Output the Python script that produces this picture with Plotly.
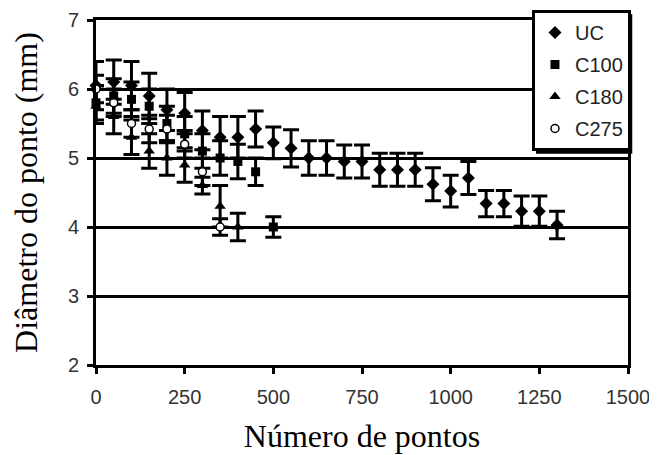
import plotly.graph_objects as go

# ---- data ----
uc_x = [0, 50, 100, 150, 200, 250, 300, 350, 400, 450, 500, 550, 600, 650,
        700, 750, 800, 850, 900, 950, 1000, 1050, 1100, 1150, 1200, 1250, 1300]
uc_y = [6.05, 6.1, 6.05, 5.9, 5.7, 5.65, 5.4, 5.3, 5.3, 5.42, 5.22, 5.14, 5.0, 5.0,
        4.95, 4.95, 4.83, 4.83, 4.83, 4.62, 4.52, 4.71, 4.34, 4.34, 4.23, 4.23, 4.03]
uc_err = [0.35, 0.32, 0.35, 0.33, 0.3, 0.3, 0.28, 0.3, 0.3, 0.26, 0.23, 0.27, 0.25, 0.25,
          0.24, 0.24, 0.24, 0.24, 0.24, 0.24, 0.23, 0.24, 0.19, 0.19, 0.22, 0.22, 0.2]

c100_x = [0, 50, 100, 150, 200, 250, 300, 350, 400, 450, 500]
c100_y = [5.8, 5.9, 5.85, 5.75, 5.5, 5.35, 5.1, 5.0, 4.95, 4.8, 4.0]
c100_err = [0.25, 0.25, 0.25, 0.25, 0.25, 0.25, 0.25, 0.25, 0.25, 0.2, 0.15]

c180_x = [0, 50, 100, 150, 200, 250, 300, 350, 400]
c180_y = [5.75, 5.6, 5.3, 5.1, 5.0, 4.9, 4.6, 4.3, 4.0]
c180_err = [0.25, 0.25, 0.25, 0.25, 0.25, 0.25, 0.12, 0.3, 0.2]

c275_x = [0, 50, 100, 150, 200, 250, 300, 350]
c275_y = [6.0, 5.8, 5.5, 5.42, 5.42, 5.2, 4.8, 4.0]
c275_err = [0.2, 0.2, 0.2, 0.2, 0.2, 0.2, 0.2, 0.12]

x_ticks = [0, 250, 500, 750, 1000, 1250, 1500]
y_ticks = [2, 3, 4, 5, 6, 7]

series = [
    ("UC", uc_x, uc_y, uc_err, dict(symbol="diamond", size=10, color="black")),
    ("C100", c100_x, c100_y, c100_err, dict(symbol="square", size=9, color="black")),
    ("C180", c180_x, c180_y, c180_err, dict(symbol="triangle-up", size=10, color="black")),
    ("C275", c275_x, c275_y, c275_err,
     dict(symbol="circle", size=8, color="white", line=dict(color="black", width=1.5))),
]

fig = go.Figure()
for name, xs, ys, es, mk in series:
    fig.add_trace(go.Scatter(
        x=xs, y=ys, name=name, mode="markers", legendgroup=name,
        marker=mk, cliponaxis=False,
        error_y=dict(type="data", array=es, visible=True, color="black",
                     thickness=3, width=8),
    ))

# legend drop shadow
fig.add_shape(type="rect", xref="paper", yref="paper",
              x0=0.827, x1=1.008, y0=0.612, y1=1.017,
              fillcolor="black", line=dict(width=0), layer="above")

tick_font = dict(family="Liberation Sans, Arial", size=20, color="#333")
title_font = dict(family="Liberation Serif, Times New Roman", size=32, color="black")

fig.update_layout(
    width=649, height=447,
    margin=dict(l=88, r=29, t=12, b=90, autoexpand=False),
    paper_bgcolor="white", plot_bgcolor="white",
    showlegend=True,
    legend=dict(x=0.8195, y=1.029, xanchor="left", yanchor="top",
                bgcolor="white", bordercolor="black", borderwidth=3,
                font=dict(family="Liberation Sans, Arial", size=20, color="#222"),
                tracegroupgap=3, itemwidth=30),
    xaxis=dict(range=[0, 1500], tickvals=x_ticks, ticks="outside", ticklen=6,
               tickwidth=3, tickcolor="black", showgrid=False, zeroline=False,
               showline=True, linecolor="black", linewidth=3, mirror=True,
               tickfont=tick_font, ticklabelstandoff=6,
               title=dict(text="Número de pontos", standoff=18, font=title_font)),
    yaxis=dict(range=[2, 7], tickvals=y_ticks, ticks="outside", ticklen=6,
               tickwidth=3, tickcolor="black", showgrid=True, gridcolor="black",
               gridwidth=3, zeroline=False,
               showline=True, linecolor="black", linewidth=3, mirror=True,
               tickfont=tick_font, ticklabelstandoff=4,
               title=dict(text="Diâmetro do ponto (mm)", standoff=22, font=title_font)),
)

fig.write_html("out.html")
